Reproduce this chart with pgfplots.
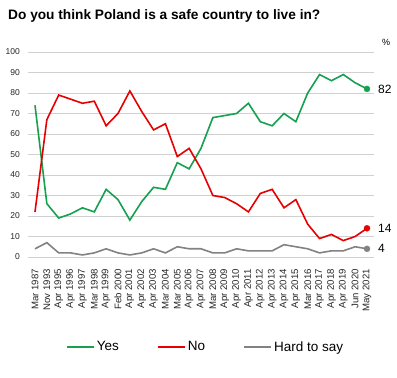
\documentclass[border=0pt]{standalone}
\usepackage{pgfplots}
\pgfplotsset{compat=1.18}
\usepackage{fontspec}
\setmainfont{Liberation Sans}
\definecolor{cyes}{RGB}{22,160,80}
\definecolor{cno}{RGB}{230,0,0}
\definecolor{chard}{RGB}{130,130,130}
\begin{document}
\begin{tikzpicture}[x=1pt,y=1pt]
\path[use as bounding box, fill=white] (0,0) rectangle (397,378);
\node[anchor=base west, inner sep=0, font=\fontsize{13.7}{16}\selectfont\bfseries] at (8,358) {Do you think Poland is a safe country to live in?};
\begin{axis}[at={(28pt,121pt)}, anchor=south west, scale only axis,
  width=346pt, height=205pt,
  xmin=-0.59, xmax=28.59, ymin=0, ymax=100,
  clip=false,
  axis line style={draw=none}, major tick length=0pt,
  ymajorgrids, grid style={color=black!18, line width=0.8pt},
  ytick={0,10,...,100},
  xtick={0,...,28},
  xticklabels={Mar 1987,Nov 1993,Apr 1995,Apr 1996,Apr 1997,Mar 1998,Apr 1999,Feb 2000,Apr 2001,Apr 2002,Apr 2003,Mar 2004,Mar 2005,Apr 2006,Apr 2007,Mar 2008,Apr 2009,Apr 2010,Apr 2011,Apr 2012,Apr 2013,Apr 2014,Apr 2015,Mar 2016,Apr 2017,Apr 2018,Apr 2019,Jun 2020,May 2021},
  /pgf/number format/assume math mode=true,
  tick label style={text=black!85},
  yticklabel style={font=\fontsize{8.5}{10}\selectfont, anchor=east, inner sep=0pt, xshift=-8pt},
  xticklabel style={font=\fontsize{9.6}{11}\selectfont, yshift=-12pt, rotate=90, anchor=east, inner sep=0pt},
  legend style={at={(0.513,-0.439)}, anchor=center, draw=none, fill=none,
    legend columns=3, font=\fontsize{13.5}{16}\selectfont,
    /tikz/every even column/.append style={column sep=36pt}},
  legend cell align=left,
  legend image code/.code={\draw[#1, line width=2pt] (0pt,0pt) -- (27pt,0pt);},
]
\addplot[cyes, line width=1.6pt, mark=none] coordinates {
(0,74)(1,26)(2,19)(3,21)(4,24)(5,22)(6,33)(7,28)(8,18)(9,27)(10,34)(11,33)(12,46)(13,43)(14,53)(15,68)(16,69)(17,70)(18,75)(19,66)(20,64)(21,70)(22,66)(23,80)(24,89)(25,86)(26,89)(27,85)(28,82)};
\addlegendentry{Yes}
\addplot[cno, line width=1.6pt, mark=none] coordinates {
(0,22)(1,67)(2,79)(3,77)(4,75)(5,76)(6,64)(7,70)(8,81)(9,71)(10,62)(11,65)(12,49)(13,53)(14,43)(15,30)(16,29)(17,26)(18,22)(19,31)(20,33)(21,24)(22,28)(23,16)(24,9)(25,11)(26,8)(27,10)(28,14)};
\addlegendentry{No}
\addplot[chard, line width=1.6pt, mark=none] coordinates {
(0,4)(1,7)(2,2)(3,2)(4,1)(5,2)(6,4)(7,2)(8,1)(9,2)(10,4)(11,2)(12,5)(13,4)(14,4)(15,2)(16,2)(17,4)(18,3)(19,3)(20,3)(21,6)(22,5)(23,4)(24,2)(25,3)(26,3)(27,5)(28,4)};
\addlegendentry{Hard to say}
\addplot[cyes, only marks, mark=*, mark size=3pt, forget plot] coordinates {(28,82)};
\addplot[cno, only marks, mark=*, mark size=3pt, forget plot] coordinates {(28,14)};
\addplot[chard, only marks, mark=*, mark size=3pt, forget plot] coordinates {(28,4)};
\node[anchor=west, inner sep=0pt, xshift=11pt, font=\fontsize{12}{14}\selectfont] at (axis cs:28,82) {82};
\node[anchor=west, inner sep=0pt, xshift=11pt, font=\fontsize{12}{14}\selectfont] at (axis cs:28,14) {14};
\node[anchor=west, inner sep=0pt, xshift=11pt, font=\fontsize{12}{14}\selectfont] at (axis cs:28,4) {4};
\end{axis}
\node[font=\fontsize{9}{10}\selectfont] at (386,336) {\%};
\end{tikzpicture}
\end{document}
